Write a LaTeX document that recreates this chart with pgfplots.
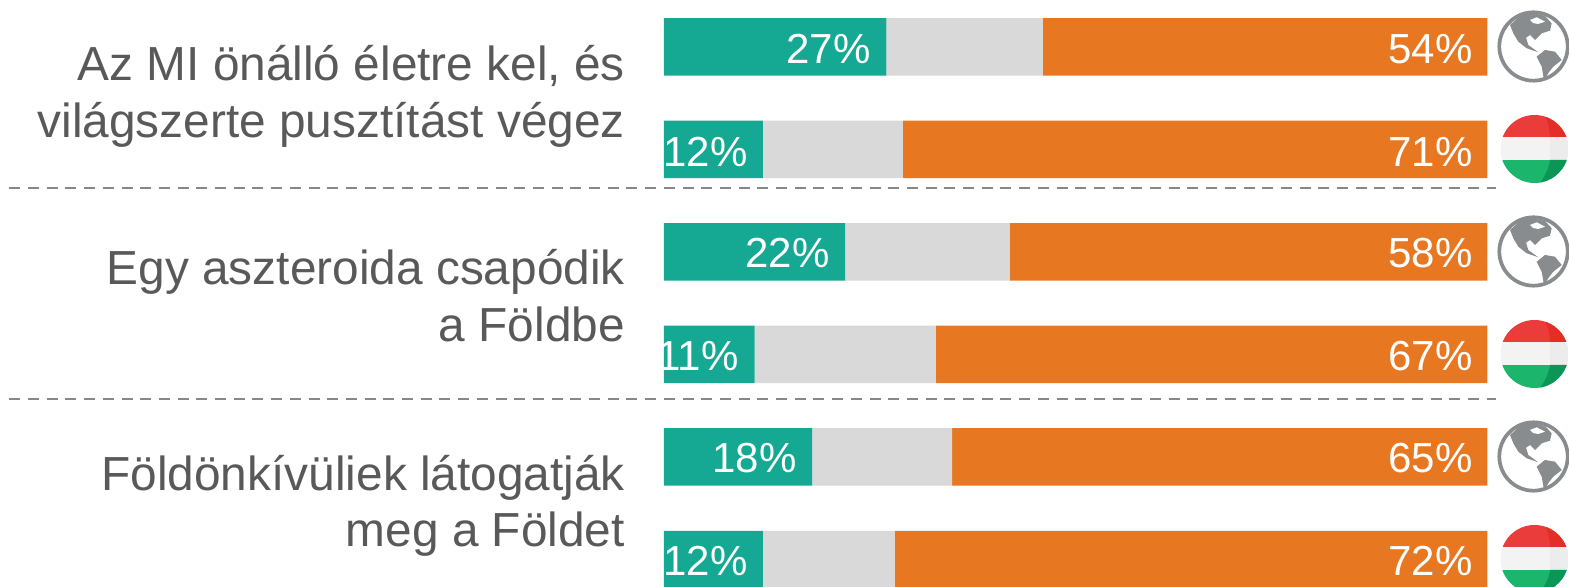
\documentclass[border=0pt]{standalone}
\usepackage{pgfplots}
\pgfplotsset{compat=1.18}
\usepackage{fontspec}
\setmainfont{Liberation Sans}
\definecolor{teal}{RGB}{21,168,146}
\definecolor{midgrey}{RGB}{217,217,217}
\definecolor{orangebar}{RGB}{232,119,34}
\definecolor{labelgrey}{RGB}{89,89,89}
\definecolor{dashgrey}{RGB}{135,135,135}
\definecolor{globegrey}{RGB}{137,140,142}
\definecolor{flagred}{RGB}{234,60,58}
\definecolor{flagredd}{RGB}{228,45,38}
\definecolor{flagwhite}{RGB}{243,243,243}
\definecolor{flagwhited}{RGB}{236,236,236}
\definecolor{flaggreen}{RGB}{27,181,108}
\definecolor{flaggreend}{RGB}{11,150,88}
% y = bar centre in reference pixels
\pgfplotstableread{
y      yes  mid  no
47     27   19   54
149.5  12   17   71
252    22   20   58
354.5  11   22   67
457    18   17   65
559.5  12   16   72
}\bars
\newcommand{\catlabel}[3]{\node[anchor=base east,text=labelgrey,inner sep=0pt,font=\fontsize{23.9}{24}\selectfont] at (axis cs:#1,#2) {#3};}
% px coordinates: right end of the text, baseline
\newcommand{\vallabel}[3]{\node[anchor=base east,text=white,inner sep=0pt,font=\fontsize{21}{21}\selectfont] at (#1,#2) {#3\%};}
% icons drawn in reference pixels
\newcommand{\globeicon}[1]{%
  \begin{scope}[yshift=#1*-0.5pt]
    \draw[globegrey,line width=1.85pt] (1533.5,46.5) circle (34.2);
    \fill[globegrey] (1510,25) -- (1520,16) -- (1531.7,12.7) -- (1545,16) -- (1551.7,23.3)
      -- (1550,30.7) -- (1541.7,33.3) -- (1535,40) -- (1530,35) -- (1526,37.7) -- (1528.3,45)
      -- (1538.3,52.3) -- (1526.7,48.3) -- (1518.3,41.7) -- (1513.3,33.3) -- cycle;
    \fill[white] (1530,20) -- (1536.7,17.3) -- (1545,21.7) -- (1538,24) -- (1533,23) -- cycle;
    \fill[globegrey] (1536.7,56.7) -- (1545,50) -- (1555,51.7) -- (1561.7,60) -- (1553.3,66.7)
      -- (1549.3,71.7) -- (1544,80) -- (1541.7,66.7) -- cycle;
  \end{scope}}
\newcommand{\flagicon}[1]{%
  \begin{scope}[yshift=#1*-0.5pt]
    \clip (1534.5,149) circle (34);
    \fill[flagred] (1500,115) rectangle (1569,137);
    \fill[flagwhite] (1500,137) rectangle (1569,160);
    \fill[flaggreen] (1500,160) rectangle (1569,183);
    \fill[flagredd] (1545,115) .. controls (1548,122) and (1550,130) .. (1550,137) -- (1569,137) -- (1569,115) -- cycle;
    \fill[flagwhited] (1550,137) -- (1550,160) -- (1569,160) -- (1569,137) -- cycle;
    \fill[flaggreend] (1550,160) .. controls (1549,168) and (1545,176) .. (1540,183) -- (1569,183) -- (1569,160) -- cycle;
  \end{scope}}
\begin{document}
\begin{tikzpicture}
  \path[use as bounding box,clip] (0,0) rectangle (784.5pt,293.5pt);
  \begin{axis}[
      at={(0,0)}, anchor=south west,
      scale only axis, width=784.5pt, height=293.5pt,
      hide axis, clip=false,
      xbar stacked, bar width=28.75pt,
      xmin=-80.63, xmax=109.90,
      ymin=0, ymax=587, y dir=reverse,
    ]
    \addplot[draw=none,fill=teal] table[x=yes,y=y] {\bars};
    \addplot[draw=none,fill=midgrey] table[x=mid,y=y] {\bars};
    \addplot[draw=none,fill=orangebar] table[x=no,y=y] {\bars};
    % row separators
    \draw[dashgrey,line width=1.4pt,dash pattern=on 5.5pt off 3.85pt] (axis cs:-79.5,188) -- (axis cs:101,188);
    \draw[dashgrey,line width=1.4pt,dash pattern=on 5.5pt off 3.85pt] (axis cs:-79.5,399) -- (axis cs:101,399);
    % questions
    \catlabel{-4.7}{81}{Az MI önálló életre kel, és}
    \catlabel{-4.7}{138}{világszerte pusztítást végez}
    \catlabel{-4.7}{285}{Egy aszteroida csapódik}
    \catlabel{-4.7}{342}{a Földbe}
    \catlabel{-4.7}{490}{Földönkívüliek látogatják}
    \catlabel{-4.7}{546}{meg a Földet}
  \end{axis}
  \begin{scope}[x=0.5pt,y=-0.5pt,yshift=293.5pt]
    % values go after the axis: stacked bars are painted last inside it
    \vallabel{871}{64}{27} \vallabel{1473}{64}{54}
    \vallabel{748}{167}{12} \vallabel{1473}{167}{71}
    \vallabel{830}{268}{22} \vallabel{1473}{268}{58}
    \vallabel{739}{371}{11} \vallabel{1473}{371}{67}
    \vallabel{797}{473}{18} \vallabel{1473}{473}{65}
    \vallabel{748}{576}{12} \vallabel{1473}{576}{72}
    \globeicon{0}\globeicon{205}\globeicon{410}
    \flagicon{0}\flagicon{205}\flagicon{410}
  \end{scope}
\end{tikzpicture}
\end{document}
